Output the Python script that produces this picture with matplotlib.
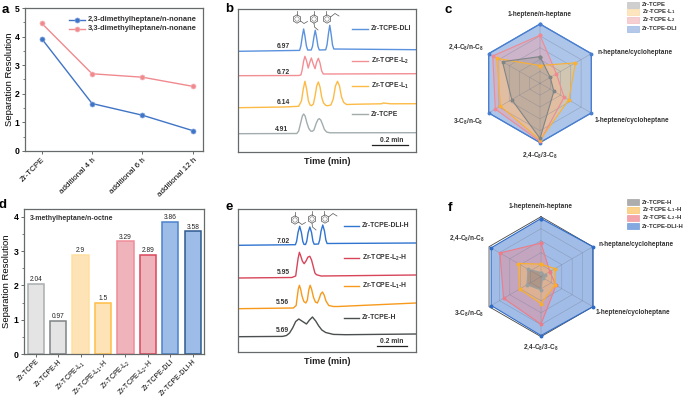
import numpy as np
import matplotlib
matplotlib.use('Agg')
import matplotlib.pyplot as plt
from matplotlib.patches import Rectangle, RegularPolygon, Circle
from matplotlib.ticker import AutoMinorLocator

plt.rcParams['font.family'] = ['Liberation Sans', 'DejaVu Sans']
plt.rcParams['mathtext.default'] = 'regular'

W, H = 685, 397
SPINE = '#666a6a'

# panel a
a_labels = ['Zr-TCPE', 'additional 4 h', 'additional 6 h', 'additional 12 h']
a_23 = [3.93, 1.66, 1.25, 0.71]
a_33 = [4.47, 2.70, 2.58, 2.26]

# panel d
d_labels = ['Zr-TCPE', 'Zr-TCPE-H', 'Zr-TCPE-L$_1$', 'Zr-TCPE-L$_1$-H', 'Zr-TCPE-L$_2$',
            'Zr-TCPE-L$_2$-H', 'Zr-TCPE-DLI', 'Zr-TCPE-DLI-H']
d_values = [2.04, 0.97, 2.9, 1.5, 3.29, 2.89, 3.86, 3.58]
d_fill = ['#e3e4e3', '#e3e4e3', '#fde3b6', '#fde3b6', '#efb3bc', '#efb3bc', '#9dbde8', '#9dbde8']
d_edge = ['#a9aeae', '#808484', '#ffe0a2', '#ffbe45', '#f08d98', '#d9475b', '#4a82cc', '#2e5a90']

# panel b traces (time in min, signal in a.u.)
b_dli_t = [0, .335, .342, .350, .357, .364, .372, .379, .398, .405, .413, .420, .427, .435, .442,
           .477, .484, .492, .499, .506, .514, .521, .968]
b_dli_s = [100.7, 101.6, 106, 116, 123, 116, 106, 102, 102, 105.5, 115, 121.7, 115, 105.5, 102,
           102.2, 107, 118.5, 126.7, 118.5, 107, 103, 102.3]
b_l2_t = [0, .330, .342, .349, .357, .364, .373, .382, .391, .399, .409, .419, .428, .437, .446,
          .455, .464, .968]
b_l2_s = [76.3, 76.5, 77, 82, 91, 95.7, 91, 84, 90, 94, 88, 83.3, 90, 93.7, 89, 81, 78, 78.3]
b_l1_t = [0, .25, .33, .345, .355, .364, .373, .383, .392, .400, .410, .419, .428, .437, .446, .455,
          .465, .478, .488, .505, .518, .530, .541, .552, .563, .575, .590, .65, .78, .79, .83, .968]
b_l1_s = [44.3, 45, 45.7, 51, 63, 70.7, 63, 51, 47, 46.3, 48, 56, 66, 70, 65, 55,
          49, 46.5, 46.3, 47, 53, 66, 70.7, 66, 55, 49.5, 47.5, 47.8, 48.2, 49, 48.2, 48.3]
b_z_t = [0, .32, .33, .342, .35, .357, .365, .375, .385, .395, .404, .413, .425, .435, .442, .45,
         .46, .47, .482, .50, .968]
b_z_s = [18.3, 18.5, 21, 30, 36, 38, 36, 29, 23.5, 21, 20.7, 22, 28.5, 32.5, 33.3, 32,
         27.5, 22.5, 20, 19.2, 19.3]

# panel e traces
e_dli_t = [0, .373, .381, .390, .401, .412, .421, .429, .439, .447, .456, .467, .478, .487, .495,
           .523, .531, .540, .551, .562, .571, .579, 1.157]
e_dli_s = [106.7, 107.3, 110.7, 119.5, 125.7, 119.5, 110.7, 107.6, 107.5, 110.8, 119.5, 125, 119.5, 110.8, 107.8,
           108, 112, 121, 127, 121, 112, 108.5, 109]
e_l2_t = [0, .35, .375, .382, .390, .399, .408, .418, .430, .442, .455, .467, .478, .490, .500, .510, .54, 1.157]
e_l2_s = [74, 74.5, 76, 84, 93, 99.7, 96, 91, 88.3, 91, 95, 95.7, 92, 85, 79, 77.3, 76, 77]
e_l1_t = [0, .36, .378, .385, .392, .399, .407, .416, .428, .441, .451, .460, .469, .478, .490, .503,
          .516, .527, .538, .549, .560, .572, .590, .62, .65, 1.157]
e_l1_s = [43.3, 44, 46.5, 55, 63, 66.7, 63, 56, 50.5, 49, 52, 62, 66.7, 63, 55, 50,
          49, 53, 58, 60, 57, 51, 46.5, 45.5, 45.5, 49]
e_z_t = [0, .29, .315, .335, .355, .375, .395, .415, .445, .465, .484, .505, .525, .545, .57, .62, .70, 1.157]
e_z_s = [15.3, 15.6, 16.5, 19, 24, 30.5, 33, 31, 28, 32, 35, 31, 26, 22, 19.5, 17.6, 17.3, 18]

# radar panels, clockwise from the top
c_axes = ['1-heptene/n-heptane', 'n-heptane/cycloheptane', '1-heptene/cycloheptane',
          '2,4-C$_8$/3-C$_8$', '3-C$_8$/n-C$_8$', '2,4-C$_8$/n-C$_8$']
c_dli = [1, 1, 1, 1, 1, 1]
c_l2 = [.81, .32, .47, .98, .87, .92]
c_l1 = [.30, .69, .56, .955, .77, .84]
c_z = [.45, .20, .27, .93, .55, .73]
f_dli = [.97, 1, 1, .98, .96, .96]
f_l2 = [.56, .17, .29, .79, .72, .79]
f_l1 = [.21, .27, .27, .45, .41, .44]
f_z = [.07, .07, .03, .22, .27, .25]
rings = [.2, .4, .6, .8, 1]


def px_axes(x0, y0, x1, y1, **kw):
    return fig.add_axes([x0 / W, 1 - y1 / H, (x1 - x0) / W, (y1 - y0) / H], **kw)


def style_box(ax):
    for s in ax.spines.values():
        s.set_color(SPINE)
        s.set_linewidth(0.9)


def chrom_panel(box, xmax, traces):
    ax = px_axes(*box)
    for t, s, col in traces:
        ax.plot(t, s, color=col, lw=1.0)
    ax.set_xlim(0, xmax)
    ax.set_ylim(0, box[3] - box[1])
    ax.set_xticks([])
    ax.set_yticks([])
    style_box(ax)
    return ax


def radar(cx, cy, r, series, frame, frame_lw):
    ax = px_axes(cx - r, cy - r, cx + r, cy + r, projection='polar')
    ax.set_theta_zero_location('N')
    ax.set_theta_direction(-1)
    ax.set_ylim(0, 1)
    ax.axis('off')
    th = np.deg2rad(np.arange(0, 360, 60))
    th_c = np.append(th, th[0])
    for ring in rings:
        if ring == 1:
            ax.plot(th_c, [ring] * 7, color=frame, lw=frame_lw, zorder=6, clip_on=False)
        else:
            ax.plot(th_c, [ring] * 7, color='#6f7c92', lw=0.35, alpha=0.55, zorder=6, clip_on=False)
    for a in th:
        ax.plot([a, a], [0, 1], color='#6f7c92', lw=0.35, alpha=0.55, zorder=6, clip_on=False)
    for i, (vals, fill, edge) in enumerate(series):
        v = np.append(vals, vals[0])
        ax.fill(th_c, v, color=fill, alpha=0.45, lw=0, zorder=2 + i, clip_on=False)
        ax.plot(th_c, v, color=edge, lw=0.8, marker='o', ms=1.8, zorder=7 + i, clip_on=False)
    return ax


fig = plt.figure(figsize=(W / 100, H / 100), dpi=100)

# a
ax = px_axes(25, 8, 203, 151)
ax.plot(a_labels, a_23, color='#3f74c6', lw=1.0, marker='o', ms=3.6, mfc='#3f74c6', mec='#7fa3dc', mew=0.5)
ax.plot(a_labels, a_33, color='#f08a8f', lw=1.0, marker='o', ms=3.6, mfc='#f08a8f', mec='#f5b5b8', mew=0.5)
ax.set_xlim(-0.33, 3.2)
ax.set_ylim(0, 5)
ax.set_ylabel('Separation Resolution', fontsize=6.8, labelpad=0.5)
ax.yaxis.set_minor_locator(AutoMinorLocator(2))
ax.tick_params(axis='y', labelsize=6.2, length=2.5, width=0.7, pad=1.5, color=SPINE)
ax.tick_params(axis='y', which='minor', length=1.5, width=0.6, color=SPINE)
ax.tick_params(axis='x', labelsize=5.8, length=2.5, width=0.7, pad=1.5, color=SPINE)
for lab in ax.get_yticklabels():
    lab.set_fontweight('bold')
plt.setp(ax.get_xticklabels(), rotation=45, ha='right', rotation_mode='anchor')
style_box(ax)

# d
ax = px_axes(24, 209, 204, 354)
ax.bar(range(8), d_values, width=0.72, color=d_fill, edgecolor=d_edge, lw=1.1)
for i, v in enumerate(d_values):
    ax.text(i, v + 0.02, str(v), ha='center', va='bottom', fontsize=4.8, color='#222222')
ax.set_xticks(range(8))
ax.set_xticklabels(d_labels)
ax.set_xlim(-0.52, 7.5)
ax.set_ylim(0, 4.23)
ax.set_yticks([0, 1, 2, 3, 4])
ax.set_ylabel('Separation Resolution', fontsize=6.8, labelpad=1.5)
ax.yaxis.set_minor_locator(AutoMinorLocator(2))
ax.tick_params(axis='y', labelsize=6.2, length=2.5, width=0.7, pad=1.5, color=SPINE)
ax.tick_params(axis='y', which='minor', length=1.5, width=0.6, color=SPINE)
ax.tick_params(axis='x', labelsize=5.0, length=2, width=0.7, pad=1, color=SPINE)
for lab in ax.get_yticklabels():
    lab.set_fontweight('bold')
plt.setp(ax.get_xticklabels(), rotation=45, ha='right', rotation_mode='anchor')
style_box(ax)

# b, e
BLUE, RED, ORANGE, GRAY = '#5b92de', '#f28f95', '#fdbb45', '#a3adad'
chrom_panel((238, 9, 416, 152), 0.968, [(b_dli_t, b_dli_s, BLUE), (b_l2_t, b_l2_s, RED),
                                        (b_l1_t, b_l1_s, ORANGE), (b_z_t, b_z_s, GRAY)])
eB, eR, eO, eG = '#2f74d0', '#d8455a', '#f79a1c', '#4b4f4f'
chrom_panel((238, 209, 416, 352), 1.157, [(e_dli_t, e_dli_s, eB), (e_l2_t, e_l2_s, eR),
                                          (e_l1_t, e_l1_s, eO), (e_z_t, e_z_s, eG)])

# c, f
radar(540, 83.3, 59.3, [(c_dli, '#4a7fd0', '#4a7fd0'), (c_l2, '#f4a0a8', '#f08a92'),
                        (c_l1, '#fcc870', '#fbb030'), (c_z, '#9a9a9a', '#808585')], '#4a7fd0', 0.9)
radar(541, 276.7, 60, [(f_dli, '#2f6cc8', '#2f6cc8'), (f_l2, '#f08a92', '#ee7c86'),
                       (f_l1, '#fdc060', '#fbae28'), (f_z, '#777777', '#9aa0a0')], '#444444', 0.6)

# annotations in figure pixels
ov = fig.add_axes([0, 0, 1, 1], zorder=20)
ov.set_xlim(0, W)
ov.set_ylim(H, 0)
ov.axis('off')

for s, x, y in [('a', 5, 10), ('b', 229, 9), ('c', 448, 10), ('d', 3, 205), ('e', 229, 207), ('f', 450, 208)]:
    ov.text(x, y, s, fontsize=9.5, fontweight='bold', ha='center', va='center')

# legend a
for y, col, mec, s in [(19.5, '#3f74c6', '#7fa3dc', '2,3-dimethylheptane/n-nonane'),
                       (29, '#f08a8f', '#f5b5b8', '3,3-dimethylheptane/n-nonane')]:
    ov.plot([69, 85], [y, y], color=col, lw=1.0)
    ov.plot([77], [y], 'o', color=col, ms=3.6, mec=mec, mew=0.5)
    ov.text(88, y, s, fontsize=5.4, fontweight='bold', va='center', color='#333333')

ov.text(30, 218.5, '3-methylheptane/n-octne', fontsize=5.0, fontweight='bold', va='center', color='#333333')


def chrom_notes(rows, cols, bar, bar_y, lx0, lx1, tx, time_y):
    for (name, y, num, nx, ny), col in zip(rows, cols):
        ov.plot([lx0, lx1], [y, y], color=col, lw=1.0)
        ov.text(tx, y, name, fontsize=4.9, fontweight='bold', va='center', color='#333333')
        ov.text(nx, ny, num, fontsize=4.9, fontweight='bold', ha='center', va='center', color='#333333')
    ov.plot(bar, [bar_y, bar_y], color='#222222', lw=0.9)
    ov.text(392, bar_y - 4.5, '0.2 min', fontsize=4.9, fontweight='bold', ha='center', va='center', color='#333333')
    ov.text(327, time_y, 'Time (min)', fontsize=6.6, fontweight='bold', ha='center', va='center', color='#222222')


chrom_notes([('Zr-TCPE-DLI', 29, '6.97', 283, 47), ('Zr-TCPE-L$_2$', 60.5, '6.72', 283, 72.5),
             ('Zr-TCPE-L$_1$', 86, '6.14', 283, 103), ('Zr-TCPE', 114, '4.91', 282, 129.5)],
            [BLUE, RED, ORANGE, GRAY], [372, 408], 145, 352, 368, 371, 162)
chrom_notes([('Zr-TCPE-DLI-H', 225.5, '7.02', 283, 241.5), ('Zr-TCPE-L$_2$-H', 258, '5.95', 283, 273),
             ('Zr-TCPE-L$_1$-H', 286, '5.56', 282, 303), ('Zr-TCPE-H', 317.5, '5.69', 282, 330)],
            [eB, eR, eO, eG], [377, 407], 346, 344, 359, 362, 362)


def molecule(x, y, sub):
    ov.add_patch(RegularPolygon((x, y), 6, radius=4.2, fill=False, ec='#555555', lw=0.5))
    ov.add_patch(Circle((x, y), 2.2, fill=False, ec='#777777', lw=0.4))
    ov.plot(*zip(*[(x + a, y + b) for a, b in sub]), color='#555555', lw=0.5)


METHYL_TOP = [(0, -4.2), (0, -8)]
for mx, my in [(297, 19), (295, 220)]:
    molecule(mx, my, METHYL_TOP)
    ov.plot([mx + 3.6, mx + 7, mx + 10.5], [my + 2.1, my + 4.5, my + 2.5], color='#555555', lw=0.5)
for mx, my in [(314, 19), (312, 219)]:
    molecule(mx, my, METHYL_TOP)
    ov.plot([mx, mx + 0.5, mx + 4], [my + 4.2, my + 8, my + 11], color='#555555', lw=0.5)
for mx, my in [(327, 19), (325, 219)]:
    molecule(mx, my, [(-0.5, -4.2), (-0.5, -8)])
    ov.plot([mx + 3.6, mx + 8, mx + 12], [my - 2.1, my - 5.5, my - 3], color='#555555', lw=0.5)

# radar labels
for s, x, y, ha in zip(c_axes, [540, 598, 595, 540, 468, 466], [14, 52, 120, 155, 122, 47],
                       ['center', 'left', 'left', 'center', 'center', 'center']):
    ov.text(x, y, s, fontsize=4.7, fontweight='bold', ha=ha, va='center', color='#333333')
for s, x, y, ha in zip(c_axes, [541, 599, 596, 541, 469, 467], [207, 244, 312, 347, 314, 238],
                       ['center', 'left', 'left', 'center', 'center', 'center']):
    ov.text(x, y, s, fontsize=4.7, fontweight='bold', ha=ha, va='center', color='#333333')


def radar_legend(names, ys, fills, edges):
    for s, y, fc, ec in zip(names, ys, fills, edges):
        ov.add_patch(Rectangle((627, y - 3), 12, 6, fc=fc, ec=ec, lw=0.4))
        ov.text(642, y, s, fontsize=4.3, fontweight='bold', va='center', color='#333333')


radar_legend(['Zr-TCPE', 'Zr-TCPE-L$_1$', 'Zr-TCPE-L$_2$', 'Zr-TCPE-DLI'], [5, 12, 20, 29],
             ['#cfcfcf', '#fde6bf', '#f6cfd2', '#b4c9ea'], ['#bbbbbb', '#f8d79c', '#f2b4b9', '#8fb0e0'])
radar_legend(['Zr-TCPE-H', 'Zr-TCPE-L$_1$-H', 'Zr-TCPE-L$_2$-H', 'Zr-TCPE-DLI-H'], [202, 209.5, 217.5, 226],
             ['#adadad', '#fdd28c', '#f3a5ab', '#84a8e0'], ['#999999', '#f9bd5a', '#ef8f96', '#5f8fd8'])

fig.savefig('out.png', dpi=100)
